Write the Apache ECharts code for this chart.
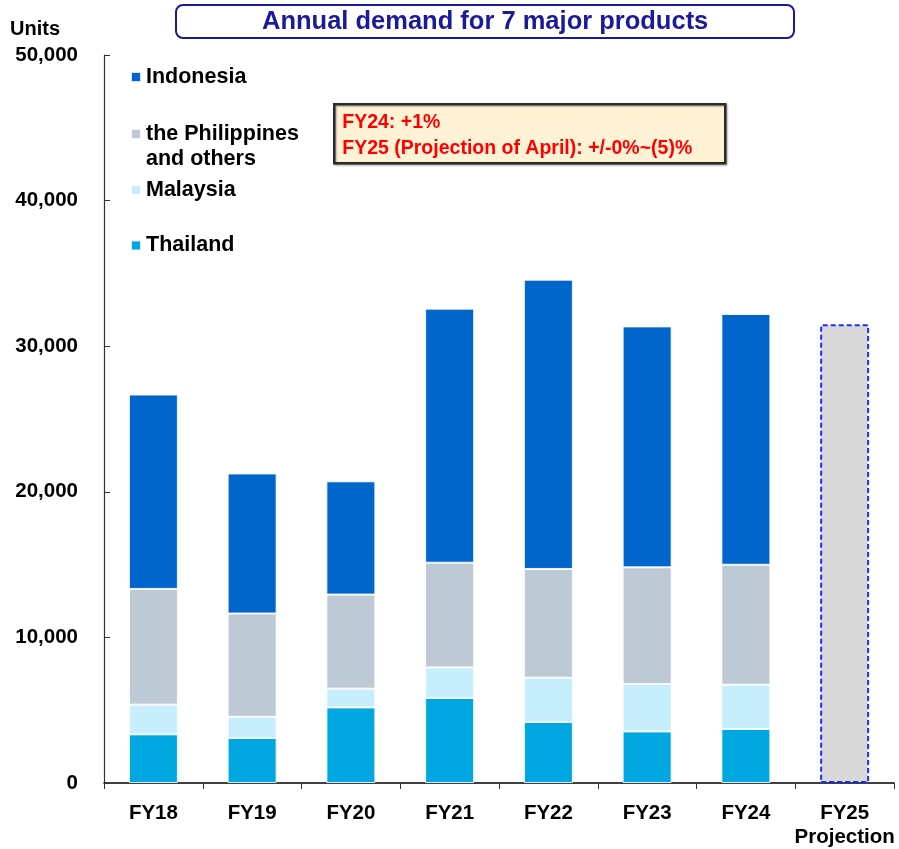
<!DOCTYPE html>
<html>
<head>
<meta charset="utf-8">
<script src="https://cdn.jsdelivr.net/npm/echarts@6/dist/echarts.min.js"></script>
<style>html,body{margin:0;padding:0;background:#fff}#graphics{width:899px;height:849px}</style>
</head>
<body>
<div id="graphics"></div>
<script>
// data (units)
var categories = ['FY18', 'FY19', 'FY20', 'FY21', 'FY22', 'FY23', 'FY24', 'FY25\nProjection'];
var thailand = [3340, 3090, 5190, 5840, 4190, 3540, 3710, '-'];
var malaysia = [2040, 1460, 1290, 2100, 3040, 3260, 3040, '-'];
var philippines = [7950, 7090, 6460, 7190, 7470, 8010, 8240, '-'];
var indonesia = [13350, 9620, 7780, 17450, 19870, 16550, 17220, '-'];
var projection = ['-', '-', '-', '-', '-', '-', '-', 31500];
var yTicks = [0, 10000, 20000, 30000, 40000, 50000];

var font = '"Liberation Sans", Arial, sans-serif';
var myChart = echarts.init(document.getElementById('graphics'));

function legendAt(name, y, label) {
    return {
        data: [name],
        left: 130,
        top: y,
        orient: 'vertical',
        padding: 0,
        itemWidth: 10,
        itemHeight: 10,
        icon: 'rect',
        selectedMode: false,
        formatter: label || '{name}',
        textStyle: { color: '#000', fontSize: 21.5, fontWeight: 'bold', fontFamily: font, lineHeight: 25 }
    };
}

function segment(name, color, data) {
    return {
        name: name,
        type: 'bar',
        stack: 'total',
        barWidth: 49,
        data: data,
        itemStyle: { color: color, borderColor: 'rgba(255,255,255,0.85)', borderWidth: 1 }
    };
}

var option = {
    animation: false,
    textStyle: { fontFamily: font },
    title: {
        text: 'Annual demand for 7 major products',
        left: 176,
        top: 5,
        padding: [2, 86, 2, 86],
        borderColor: '#1A1A9A',
        borderWidth: 2,
        borderRadius: 7,
        textStyle: { color: '#1A1A9A', fontSize: 25.5, fontWeight: 'bold', fontFamily: font, lineHeight: 29 }
    },
    legend: [
        legendAt('Indonesia', 64.5),
        // blank first line keeps the marker level with "the Philippines"
        legendAt('the Philippines', 96.5, ' \nthe Philippines\nand others'),
        legendAt('Malaysia', 177.5),
        legendAt('Thailand', 233)
    ],
    graphic: [{
        type: 'group',
        left: 333,
        top: 103,
        children: [{
            type: 'rect',
            shape: { x: 0, y: 0, width: 391, height: 59 },
            style: { fill: '#FFF2D5', stroke: '#2B2B2B', lineWidth: 2.5, shadowBlur: 2, shadowOffsetX: 1, shadowOffsetY: 1, shadowColor: 'rgba(0,0,0,0.35)' }
        }, {
            type: 'text',
            x: 8,
            y: 5,
            style: {
                text: 'FY24: +1%\nFY25 (Projection of April): +/-0%~(5)%',
                fill: '#FF0000',
                font: 'bold 19.5px ' + font,
                lineHeight: 26
            }
        }]
    }],
    grid: { left: 104, right: 5, top: 55, bottom: 66, containLabel: false },
    xAxis: {
        type: 'category',
        data: categories,
        axisLine: { lineStyle: { color: '#000', width: 1.5 } },
        axisTick: { show: true, length: 6, lineStyle: { color: '#333' } },
        axisLabel: { color: '#000', fontSize: 20.5, fontWeight: 'bold', fontFamily: font, lineHeight: 24, margin: 18, interval: 0 }
    },
    yAxis: {
        type: 'value',
        min: yTicks[0],
        max: yTicks[yTicks.length - 1],
        interval: yTicks[1] - yTicks[0],
        name: 'Units',
        nameLocation: 'end',
        nameGap: 16,
        nameTextStyle: { color: '#000', fontSize: 20, fontWeight: 'bold', fontFamily: font, align: 'right', padding: [0, 44, 0, 0] },
        axisLine: { show: true, lineStyle: { color: '#333', width: 1.2 } },
        axisTick: { show: true, inside: true, length: 6, lineStyle: { color: '#333' } },
        splitLine: { show: false },
        axisLabel: {
            color: '#000', fontSize: 20.5, fontWeight: 'bold', fontFamily: font, margin: 26,
            formatter: function (v) { return v.toLocaleString('en-US'); }
        }
    },
    series: [
        segment('Thailand', '#00A7E0', thailand),
        segment('Malaysia', '#C7EEFC', malaysia),
        segment('the Philippines', '#BDC9D4', philippines),
        segment('Indonesia', '#0066CC', indonesia),
        {
            name: 'FY25 Projection',
            type: 'bar',
            stack: 'total',
            barWidth: 50,
            data: projection,
            itemStyle: { color: '#D9D9D9', borderColor: '#1F2BFF', borderWidth: 2, borderType: [5, 3] }
        }
    ]
};

myChart.setOption(option);
</script>
</body>
</html>
